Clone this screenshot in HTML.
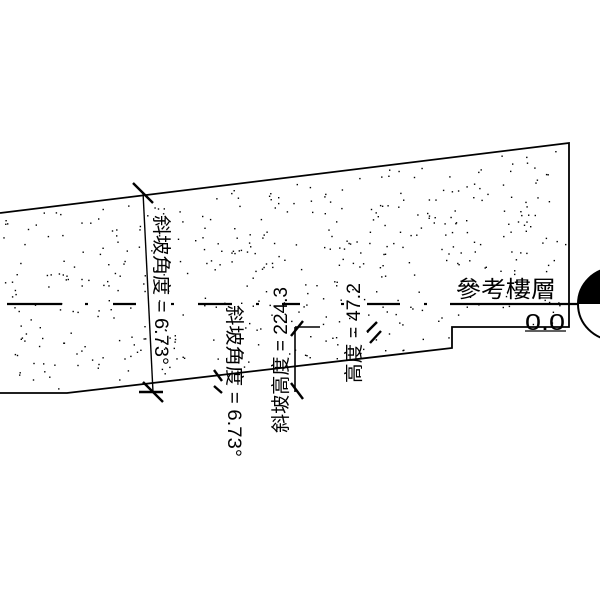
<!DOCTYPE html>
<html><head><meta charset="utf-8"><style>
html,body{margin:0;padding:0;background:#fff;width:600px;height:600px;overflow:hidden}
svg{display:block}
text{font-family:"Liberation Sans","Noto Sans CJK TC",sans-serif;fill:#000}
</style></head><body>
<svg id="s" width="600" height="600" viewBox="0 0 600 600" xmlns="http://www.w3.org/2000/svg">
<g id="dots" fill="#000"></g>
<polyline points="0,213 569,143 569,327 452,327 452,348 67,393 0,393" fill="none" stroke="#000" stroke-width="1.8"/>
<g stroke="#000" stroke-width="2.2">
<line x1="7" y1="304" x2="62" y2="304"/><line x1="85" y1="304" x2="88" y2="304"/>
<line x1="113" y1="304" x2="136" y2="304"/><line x1="171" y1="304" x2="174" y2="304"/>
<line x1="198" y1="304" x2="232" y2="304"/><line x1="256" y1="304" x2="259" y2="304"/>
<line x1="282" y1="304" x2="300" y2="304"/><line x1="341" y1="304" x2="344" y2="304"/>
<line x1="367" y1="304" x2="400" y2="304"/><line x1="424" y1="304" x2="427" y2="304"/>
<line x1="450" y1="304" x2="600" y2="304"/>
<line x1="525" y1="331" x2="566" y2="331" stroke-width="1.3"/>
</g>
<circle cx="614" cy="304" r="36" fill="#fff" stroke="#000" stroke-width="2"/>
<path d="M578,304 A36,36 0 0 1 614,268 L614,304 Z" fill="#000"/>
<text x="456" y="297" font-size="23" textLength="100" lengthAdjust="spacingAndGlyphs">參考樓層</text>
<text x="525" y="330" font-size="23" textLength="40" lengthAdjust="spacingAndGlyphs">0.0</text>
<g stroke="#000" stroke-width="2.4">
<line x1="143" y1="192" x2="153" y2="392" stroke-width="1.4"/>
<line x1="133" y1="183" x2="153" y2="203"/>
<line x1="143" y1="382" x2="163" y2="402"/>
<line x1="139" y1="392" x2="163" y2="392"/>
<line x1="214" y1="370" x2="222" y2="381"/>
<line x1="214" y1="386" x2="222" y2="393"/>
<line x1="295" y1="327" x2="295" y2="392" stroke-width="1.6"/>
<line x1="295" y1="327" x2="320" y2="327" stroke-width="1.6"/>
<line x1="291" y1="336" x2="303" y2="321"/>
<line x1="291" y1="383" x2="303" y2="399"/>
<line x1="367" y1="332" x2="377" y2="322"/>
<line x1="370" y1="343" x2="381" y2="331"/>
</g>
<text font-size="19" textLength="150" lengthAdjust="spacingAndGlyphs" transform="translate(155,215) rotate(90)">斜坡角度 = 6.73°</text>
<text font-size="19" textLength="152" lengthAdjust="spacingAndGlyphs" transform="translate(228,305) rotate(90)">斜坡角度 = 6.73°</text>
<text font-size="19" textLength="146" lengthAdjust="spacingAndGlyphs" transform="translate(287,433) rotate(-90)">斜坡高度 = 224.3</text>
<text font-size="19" textLength="100" lengthAdjust="spacingAndGlyphs" transform="translate(360,383) rotate(-90)">高度 = 47.2</text>
</svg>
<script>
(function(){
var g=document.getElementById('dots'),s=12345;
function r(){s=(s*1103515245+12345)%2147483648;return s/2147483648;}
var poly=[[0,213],[569,143],[569,327],[452,327],[452,348],[67,393],[0,393]];
function inside(x,y){var c=false;for(var i=0,j=poly.length-1;i<poly.length;j=i++){var a=poly[i],b=poly[j];if(((a[1]>y)!=(b[1]>y))&&(x<(b[0]-a[0])*(y-a[1])/(b[1]-a[1])+a[0]))c=!c;}return c;}
var out='';
for(var k=0;k<650;k++){var x=r()*569,y=143+r()*250;if(inside(x,y)&&inside(x+3,y+3)&&inside(x-3,y-3))out+='<rect x="'+x.toFixed(1)+'" y="'+y.toFixed(1)+'" width="1.4" height="1.4"/>';}
g.innerHTML=out;
})();
</script>
</body></html>
